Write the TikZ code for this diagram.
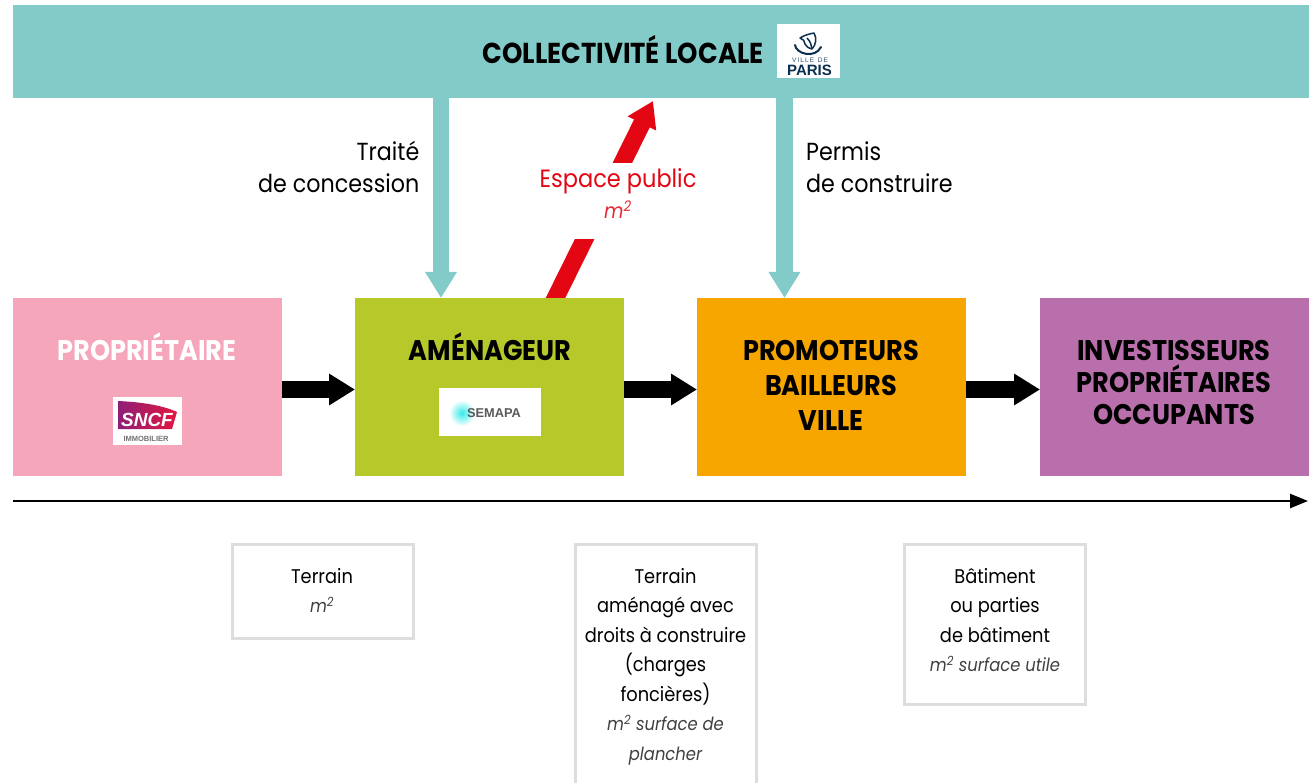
\documentclass[tikz,border=0pt]{standalone}
\usepackage{fontspec}
\usetikzlibrary{arrows.meta,calc}
\setmainfont{Poppins}[FakeStretch=0.9]
\newfontfamily\tinyfont{Liberation Sans}
\definecolor{teal1}{HTML}{83CBC9}
\definecolor{pink1}{HTML}{F5A6BA}
\definecolor{green1}{HTML}{B7C92A}
\definecolor{orange1}{HTML}{F7A600}
\definecolor{purple1}{HTML}{B96FAB}
\definecolor{red1}{HTML}{E30613}
\definecolor{grey1}{HTML}{DDDDDD}
\definecolor{navy1}{HTML}{0B2F4E}
\definecolor{sncfa}{HTML}{8E1F78}
\definecolor{sncfb}{HTML}{E3173E}
\newcommand{\fsz}[2]{\fontsize{#1}{#2}\selectfont}
\tikzset{
  x=1pt,y=-1pt,
  block/.style={minimum width=269pt,minimum height=178pt,inner sep=0pt,outer sep=0pt},
  title/.style={font=\fsz{28.4}{35}\bfseries,align=center,inner sep=0pt},
  logo/.style={fill=white,inner sep=0pt,outer sep=0pt},
  info/.style={draw=grey1,line width=3pt,fill=white,minimum width=181pt,inner sep=0pt,outer sep=0pt},
  infotext/.style={font=\fsz{19.8}{29.5},align=center,inner sep=0pt,anchor=north},
  lab/.style={font=\fsz{24.7}{31.5},inner sep=0pt},
  blackarrow/.style={line width=17pt,black,-{Triangle[length=26pt,width=30pt]}},
  tealarrow/.style={line width=16.5pt,teal1,-{Triangle[length=26pt,width=30pt]}},
  redarrow/.style={line width=17.5pt,red1,-{Triangle[length=25pt,width=30pt]}},
  axisline/.style={line width=2.5pt,black,-{Triangle[length=18pt,width=14pt]}},
}
\newcommand{\itgrey}{\color{black!75}\fsz{18.2}{29.5}\itshape}
\begin{document}
\begin{tikzpicture}
\useasboundingbox (0,0) rectangle (1316,783);
\clip (0,0) rectangle (1316,783);
% banner
\node[fill=teal1,minimum width=1296pt,minimum height=93pt,inner sep=0pt,outer sep=0pt] (banner) at (661,51.5) {};
\node[font=\fsz{28.8}{30}\bfseries,inner sep=0pt] (bantitle) at (623,50) {COLLECTIVITÉ LOCALE};
% red connector (its foot runs under the block)
\coordinate (r0) at (551,307);
\coordinate (r1) at (653,101);
\draw[redarrow] (r0) -- (r1);
% blocks
\node[block,fill=pink1] (prop) at (147.5,387) {};
\node[block,fill=green1] (amen) at (489.5,387) {};
\node[block,fill=orange1] (promo) at (831.5,387) {};
\node[block,fill=purple1] (inv) at (1174.5,387) {};
\node[title,white] (proptitle) at (147,347) {PROPRIÉTAIRE};
\node[title] (amentitle) at (490,347) {AMÉNAGEUR};
\node[title] (promotitle) at (831,385) {PROMOTEURS\\BAILLEURS\\VILLE};
\node[title,font=\fsz{28.4}{32}\bfseries] (invtitle) at (1174,382) {INVESTISSEURS\\PROPRIÉTAIRES\\OCCUPANTS};
% Paris logo
\node[logo,minimum width=63pt,minimum height=54pt] (parislogo) at (808.5,51) {};
\draw[navy1,line width=1.5pt,line join=round] (814,33) .. controls (809,34) and (805,35) .. (800,38) .. controls (803,39) and (805,41) .. (805,44) .. controls (806,46) and (808,48) .. (812,49) .. controls (816,45) and (817,38) .. (814,33) -- cycle;
\draw[navy1,line width=1.5pt] (812,49) .. controls (811,45) and (811,42) .. (807,38);
\draw[navy1,line width=2pt,line cap=round] (795,45) .. controls (796,54) and (815,59) .. (821,47);
\node[font=\tinyfont\fsz{6.5}{7},navy1!85,inner sep=0pt] (parisv) at (810,60.5) {V\,I\,L\,L\,E\ \ D\,E};
\node[font=\tinyfont\fsz{15}{16}\bfseries,navy1,inner sep=0pt] (parisn) at (809.5,70.5) {PARIS};
% SNCF logo
\node[logo,minimum width=69pt,minimum height=48pt] (sncflogo) at (147.5,421) {};
\path[left color=sncfa,right color=sncfb] (118,401) .. controls (140,402) and (162,405) .. (177,412) -- (172,429) -- (118,429) -- cycle;
\node[font=\tinyfont\fsz{19}{20}\bfseries\itshape,white,inner sep=0pt] (sncfn) at (147,420) {SNCF};
\node[font=\tinyfont\fsz{7.5}{8}\bfseries,black!55,inner sep=0pt] (sncfi) at (146,438.5) {IMMOBILIER};
% SEMAPA logo
\node[logo,minimum width=102pt,minimum height=48pt] (semapalogo) at (490,412) {};
\shade[inner color=cyan!60!teal1,outer color=white] (462,413) circle (13);
\node[font=\tinyfont\fsz{12.8}{15}\bfseries,black!65,inner sep=0pt] (semapan) at (494,413) {SEMAPA};
% teal connectors
\coordinate (t1) at (441,98);
\coordinate (t2) at (784.5,98);
\draw[tealarrow] (t1) -- (t1 |- amen.north);
\draw[tealarrow] (t2) -- (t2 |- promo.north);
% black connectors
\draw[blackarrow] ($(prop.east)+(0,2.5)$) -- ($(amen.west)+(0,2.5)$);
\draw[blackarrow] ($(amen.east)+(0,2.5)$) -- ($(promo.west)+(0,2.5)$);
\draw[blackarrow] ($(promo.east)+(0,2.5)$) -- ($(inv.west)+(0,2.5)$);
% label over the red connector
\node[fill=white,minimum width=170pt,minimum height=76pt,inner sep=0pt] (esp) at (618,201) {};
\node[font=\fsz{25}{31.5},red1,inner sep=0pt,align=center] (esptext) at (618,193.5) {Espace public\\{\color{red1!85}\fsz{21}{24}\itshape m\textsuperscript{2}}};
% labels
\node[lab,anchor=east,align=right] (traite) at (419.5,167) {Traité\\de concession};
\node[lab,anchor=west,align=left] (permis) at (806,167) {Permis\\de construire};
% axis
\coordinate (a0) at (13,501);
\coordinate (a1) at (1308,501);
\draw[axisline] (a0) -- (a1);
% info boxes
\node[info,minimum height=94pt] (i1) at (322.5,591.5) {};
\node[info,minimum height=250pt] (i2) at (665.5,669) {};
\node[info,minimum height=160pt] (i3) at (995,624.5) {};
\node[infotext] (i1t) at (322,568) {Terrain\\{\itgrey m\textsuperscript{2}}};
\node[infotext] (i2t) at (665.5,568) {Terrain\\aménagé avec\\droits à construire\\(charges\\foncières)\\{\itgrey m\textsuperscript{2} surface de}\\{\itgrey plancher}};
\node[infotext] (i3t) at (995,568) {Bâtiment\\ou parties\\de bâtiment\\{\itgrey m\textsuperscript{2} surface utile}};
\end{tikzpicture}
\end{document}
